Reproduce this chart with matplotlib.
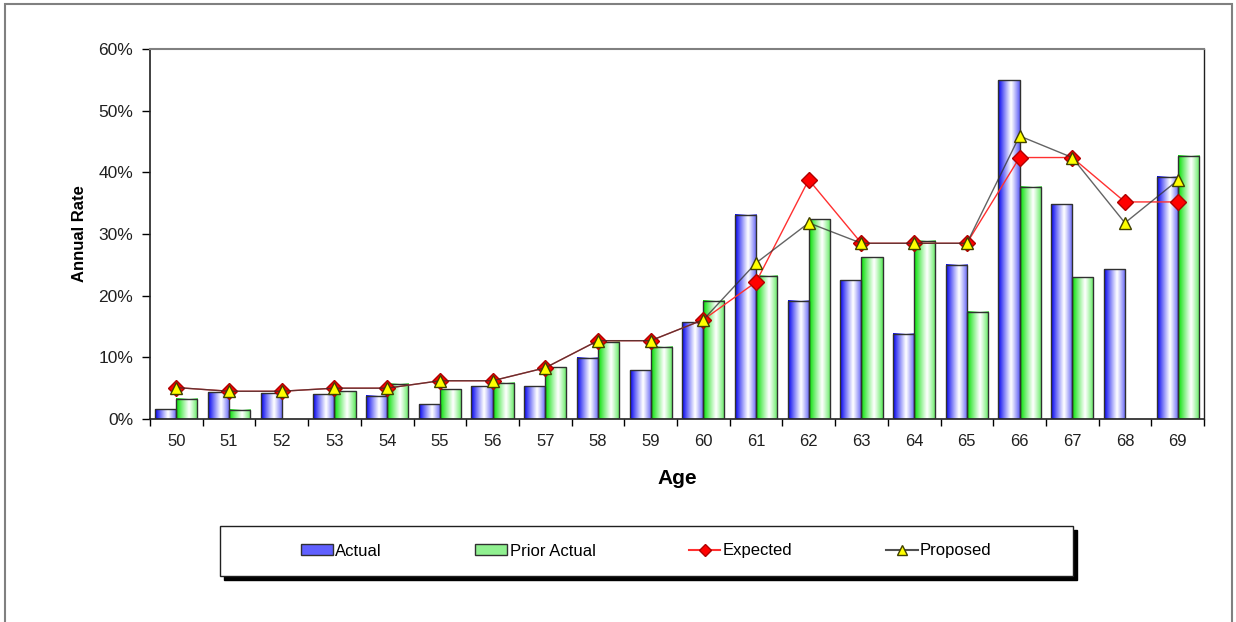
import numpy as np
import matplotlib.pyplot as plt
from matplotlib.patches import Rectangle
from matplotlib.lines import Line2D
from matplotlib.ticker import PercentFormatter, FixedLocator, NullFormatter
import matplotlib.colors as mcolors

plt.rcParams['font.family'] = ['Liberation Sans', 'DejaVu Sans']

ages = [50, 51, 52, 53, 54, 55, 56, 57, 58, 59, 60, 61, 62, 63, 64, 65, 66, 67, 68, 69]
actual = [1.6, 4.3, 4.2, 4.05, 3.8, 2.4, 5.35, 5.35, 9.9, 7.9, 15.7, 33.1, 19.2, 22.5,
          13.8, 25.0, 54.9, 34.8, 24.3, 39.3]
prior_actual = [3.3, 1.5, 0.0, 4.5, 5.7, 4.8, 5.9, 8.4, 12.5, 11.7, 19.2, 23.2, 32.4, 26.2,
                28.9, 17.4, 37.7, 23.0, 0.0, 42.7]
expected = [5.1, 4.5, 4.5, 5.0, 5.0, 6.2, 6.2, 8.3, 12.7, 12.7, 16.1, 22.2, 38.8, 28.5,
            28.5, 28.5, 42.4, 42.4, 35.2, 35.2]
proposed = [5.1, 4.5, 4.5, 5.0, 5.0, 6.2, 6.2, 8.3, 12.7, 12.7, 16.1, 25.3, 31.8, 28.5,
            28.5, 28.5, 45.9, 42.4, 31.8, 38.7]

W, H = 1236, 622
fig = plt.figure(figsize=(W / 100, H / 100), dpi=100)
ax = fig.add_axes([150 / W, 1 - 419 / H, 1054 / W, 370 / H])

# outer chart border
fig.patches.append(Rectangle((5 / W, -0.05), 1227 / W, 1.05 - 4 / H,
                             transform=fig.transFigure, fill=False,
                             edgecolor='#808080', linewidth=1.5))


def gradient_bar(ax, x0, w, h, base):
    if h <= 0:
        return
    t = np.linspace(0, 1, 64)
    k = np.clip(np.abs(t - 0.6) / 0.6, 0, 1) ** 1.1
    rgb = np.array(mcolors.to_rgb(base))
    img = 1 - k[:, None] * (1 - rgb[None, :])
    ax.imshow(img[None, :, :], extent=(x0, x0 + w, 0, h), aspect='auto',
              interpolation='bilinear', zorder=2)
    ax.add_patch(Rectangle((x0, 0), w, h, fill=False, edgecolor='#303030',
                           linewidth=1.0, zorder=3))


x = np.arange(len(ages))
bw = 0.4
for i in range(len(ages)):
    gradient_bar(ax, x[i] - bw, bw, actual[i], '#0000f0')
    gradient_bar(ax, x[i], bw, prior_actual[i], '#00e000')

ax.plot(x, expected, color='#ff3030', linewidth=1.0, marker='D', markersize=8,
        markerfacecolor='#ff0000', markeredgecolor='#b00000', zorder=4)
ax.plot(x, proposed, color='#303030', linewidth=1.0, alpha=0.75, zorder=5)
ax.plot(x, proposed, linestyle='none', marker='^', markersize=9,
        markerfacecolor='#ffff00', markeredgecolor='#404000', zorder=6)

ax.set_xlim(-0.5, len(ages) - 0.5)
ax.set_ylim(0, 60)
ax.yaxis.set_major_locator(FixedLocator(np.arange(0, 61, 10)))
ax.yaxis.set_major_formatter(PercentFormatter(decimals=0))
ax.xaxis.set_major_locator(FixedLocator(np.arange(-0.5, len(ages), 1)))
ax.xaxis.set_major_formatter(NullFormatter())
ax.xaxis.set_minor_locator(FixedLocator(x))
ax.set_xticklabels([str(a) for a in ages], minor=True)
ax.tick_params(axis='x', which='minor', length=0, pad=11, labelsize=12,
               labelcolor='#202020')
ax.tick_params(axis='x', which='major', length=5, direction='out', width=1)
ax.tick_params(axis='y', length=6, direction='out', width=1, labelsize=12.5,
               labelcolor='#202020', pad=6)

for s in ['left', 'bottom']:
    ax.spines[s].set_color('#202020')
    ax.spines[s].set_linewidth(1.2)
ax.spines['top'].set_color('#808080')
ax.spines['top'].set_linewidth(1.5)
ax.spines['right'].set_color('#202020')
ax.spines['right'].set_linewidth(1.0)

ax.set_ylabel('Annual Rate', fontsize=12, fontweight='bold', labelpad=8)
ax.set_xlabel('Age', fontsize=15, fontweight='bold', labelpad=14)

# legend box with shadow
bx, by, bwid, bht = 220 / W, 1 - 576 / H, 853 / W, 50 / H
fig.patches.append(Rectangle((bx + 4 / W, by - 4 / H), bwid, bht,
                             transform=fig.transFigure, facecolor='black',
                             edgecolor='black', zorder=1))
fig.patches.append(Rectangle((bx, by), bwid, bht, transform=fig.transFigure,
                             facecolor='white', edgecolor='#202020',
                             linewidth=1.0, zorder=2))

h_act = Rectangle((0, 0), 1, 1, facecolor='#6060ff', edgecolor='#303030')
h_pri = Rectangle((0, 0), 1, 1, facecolor='#90f090', edgecolor='#303030')
h_exp = Line2D([], [], color='#ff3030', marker='D', markersize=6,
               markerfacecolor='#ff0000', markeredgecolor='#b00000')
h_pro = Line2D([], [], color='#505050', marker='^', markersize=7,
               markerfacecolor='#ffff00', markeredgecolor='#404000')

leg = fig.legend([h_act, h_pri, h_exp, h_pro],
                 ['Actual', 'Prior Actual', 'Expected', 'Proposed'],
                 loc='center', ncol=4, fontsize=12,
                 bbox_to_anchor=(bx, by, bwid, bht), frameon=False,
                 handlelength=1.9, handleheight=0.6, handletextpad=0.15,
                 columnspacing=5.6, borderaxespad=0)
leg.set_zorder(3)

fig.savefig('out.png', dpi=100)
